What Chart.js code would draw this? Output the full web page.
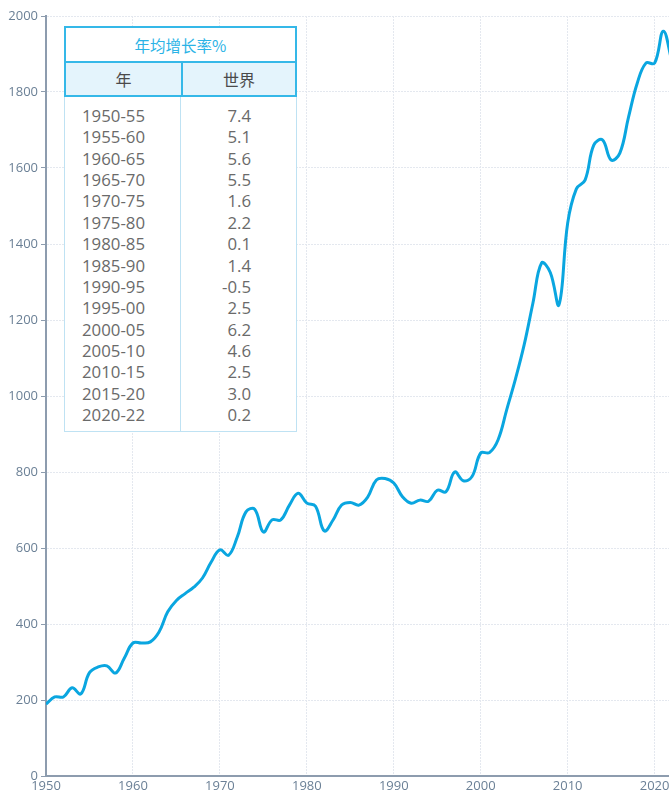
<!DOCTYPE html>
<html>
<head>
<meta charset="utf-8">
<script src="https://cdn.jsdelivr.net/npm/chart.js@4"></script>
<style>
  html, body { margin: 0; padding: 0; background: #fff; overflow: hidden; }
  #wrap { position: relative; width: 672px; height: 796px; }
  #tbl { position: absolute; left: 64px; top: 26px; width: 233px; box-sizing: border-box;
         font-family: "Open Sans", "Noto Sans CJK SC", sans-serif; background: #fff; }
  #tbl .title { height: 35px; box-sizing: border-box; border: 2px solid #35b8e8; border-bottom: none;
         color: #2ab3e6; font-family: "Noto Sans CJK SC", sans-serif; font-size: 15.5px;
         display: flex; align-items: center; justify-content: center; }
  #tbl .head { height: 36px; box-sizing: border-box; border: 2px solid #35b8e8; background: #e4f4fc;
         display: flex; color: #4a4a4a; font-family: "Noto Sans CJK SC", sans-serif; font-size: 16px; }
  #tbl .head div { display: flex; align-items: center; justify-content: center; }
  #tbl .head .c1 { width: 115px; border-right: 2px solid #35b8e8; }
  #tbl .head .c2 { flex: 1; }
  #tbl .body { display: flex; border: 1px solid #bfe2f3; border-top: none; box-sizing: border-box;
         height: 335px; }
  #tbl .body .c1 { width: 116px; border-right: 1px solid #bfe2f3; padding: 8px 0 0 17px; box-sizing: border-box; }
  #tbl .body .c2 { flex: 1; padding: 8px 45px 0 0; box-sizing: border-box; text-align: right; }
  #tbl .body div div { height: 21.36px; line-height: 21.36px; font-size: 16.8px; color: #6a6a6a; }
</style>
</head>
<body>
<div id="wrap">
  <canvas id="c"></canvas>
  <div id="tbl">
    <div class="title" id="ttl"></div>
    <div class="head"><div class="c1" id="h1"></div><div class="c2" id="h2"></div></div>
    <div class="body"><div class="c1" id="b1"></div><div class="c2" id="b2"></div></div>
  </div>
</div>
<script>
const years = [1950,1951,1952,1953,1954,1955,1956,1957,1958,1959,
               1960,1961,1962,1963,1964,1965,1966,1967,1968,1969,
               1970,1971,1972,1973,1974,1975,1976,1977,1978,1979,
               1980,1981,1982,1983,1984,1985,1986,1987,1988,1989,
               1990,1991,1992,1993,1994,1995,1996,1997,1998,1999,
               2000,2001,2002,2003,2004,2005,2006,2007,2008,2009,
               2010,2011,2012,2013,2014,2015,2016,2017,2018,2019,
               2020,2021,2022];
const values = [189,208,208,232,216,272,287,290,271,310,
                350,350,353,379,432,462,480,497,521,563,
                595,581,629,695,702,642,674,674,713,744,
                718,710,645,673,713,720,713,734,779,783,
                771,735,718,726,723,752,748,800,777,788,
                850,851,885,965,1045,1135,1244,1350,1325,1240,
                1455,1545,1568,1660,1674,1621,1639,1734,1823,1876,
                1876,1960,1880];
const tableTitle = "年均增长率%";
const tableHeaders = ["年", "世界"];
const periods = ["1950-55","1955-60","1960-65","1965-70","1970-75","1975-80","1980-85",
                 "1985-90","1990-95","1995-00","2000-05","2005-10","2010-15","2015-20","2020-22"];
const rates = ["7.4","5.1","5.6","5.5","1.6","2.2","0.1","1.4","-0.5","2.5","6.2","4.6","2.5","3.0","0.2"];
const xTicks = [1950,1960,1970,1980,1990,2000,2010,2020];

document.getElementById('ttl').textContent = tableTitle;
document.getElementById('h1').textContent = tableHeaders[0];
document.getElementById('h2').textContent = tableHeaders[1];
const b1 = document.getElementById('b1'), b2 = document.getElementById('b2');
periods.forEach((p, i) => {
  const d1 = document.createElement('div'); d1.textContent = p; b1.appendChild(d1);
  const d2 = document.createElement('div'); d2.textContent = rates[i]; b2.appendChild(d2);
});

const axisColor = '#8d9cae';
const tickColor = '#6b8096';
const gridColor = '#e4e8ef';

new Chart(document.getElementById('c'), {
  type: 'line',
  data: {
    datasets: [{
      data: years.map((y, i) => ({ x: y, y: values[i] })),
      borderColor: '#0aa6e0',
      borderWidth: 3,
      pointRadius: 0,
      tension: 0.4,
      fill: false
    }]
  },
  options: {
    responsive: true,
    maintainAspectRatio: false,
    animation: false,
    layout: { padding: { top: 16, right: 0, left: 0, bottom: 0 } },
    plugins: { legend: { display: false }, tooltip: { enabled: false } },
    scales: {
      x: {
        type: 'linear', min: 1950, max: 2022,
        afterBuildTicks: (s) => { s.ticks = xTicks.map(v => ({ value: v })); },
        afterFit: (s) => { s.height = 20; },
        ticks: { autoSkip: false, maxRotation: 0, includeBounds: false, padding: 0,
                 color: tickColor, font: { family: 'Open Sans', size: 13 },
                 callback: (v) => String(v) },
        grid: { color: gridColor, lineWidth: 1, drawTicks: true, tickLength: 2, tickColor: 'rgba(0,0,0,0)' },
        border: { color: axisColor, width: 2, dash: [2, 1] }
      },
      y: {
        min: 0, max: 2000,
        afterFit: (s) => { s.width = 46; },
        ticks: { stepSize: 200, padding: 3, color: tickColor, font: { family: 'Open Sans', size: 13 },
                 callback: (v) => String(v) },
        grid: { color: gridColor, lineWidth: 1, drawTicks: true, tickLength: 5, tickColor: axisColor },
        border: { color: axisColor, width: 2, dash: [2, 1] }
      }
    }
  }
});
</script>
</body>
</html>
